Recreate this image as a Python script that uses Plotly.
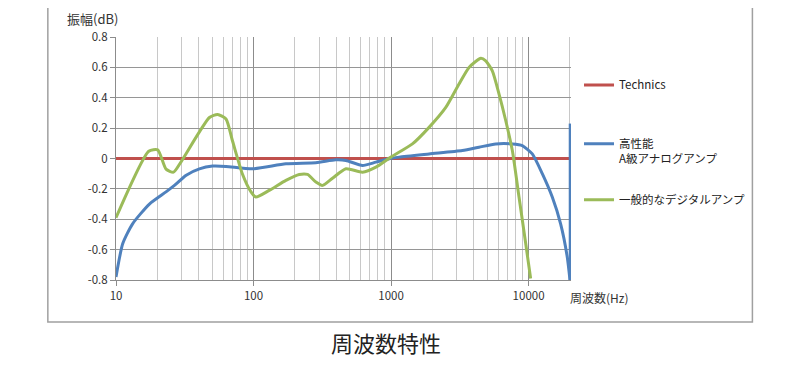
import plotly.graph_objects as go

# ---- data ----
freq_technics = [10, 20000]
val_technics = [0, 0]

freq_analog = [10, 11.2, 13.2, 17.5, 23.1, 26.6, 32.4, 40.4, 50.4, 63.1, 98.4, 172, 284,
               397, 470, 620, 776, 968, 1145, 1890, 3300, 4360, 5770, 7620, 9000,
               10640, 12580, 14870, 17100, 19100, 20000]
val_analog = [-0.78, -0.56, -0.43, -0.30, -0.22, -0.177, -0.11, -0.068, -0.05, -0.052, -0.068,
              -0.035, -0.028, -0.009, -0.013, -0.046, -0.024, -0.002, 0.009, 0.03, 0.052,
              0.074, 0.096, 0.096, 0.085, 0.03, -0.10, -0.254, -0.43, -0.647, -0.8]
freq_analog_tail = [20000, 20000]
val_analog_tail = [-0.8, 0.23]

freq_digital = [10, 17.3, 20.1, 23.1, 26.2, 29.8, 47.8, 54.8, 63.1, 70.1, 82.9, 95.9, 104,
                130, 172, 215, 247, 284, 318, 375, 470, 620, 776, 997, 1430, 1890, 2500,
                3120, 3690, 4500, 4880, 5450, 6100, 6820, 7620, 8520, 9530, 10350]
val_digital = [-0.39, 0.048, 0.057, -0.07, -0.09, -0.02, 0.27, 0.29, 0.26, 0.12, -0.10, -0.22,
               -0.254, -0.21, -0.144, -0.105, -0.105, -0.155, -0.177, -0.13, -0.068, -0.09,
               -0.057, 0.009, 0.096, 0.205, 0.336, 0.49, 0.60, 0.66, 0.643, 0.577, 0.424,
               0.25, 0.052, -0.254, -0.56, -0.79]

names = ["Technics", "高性能<br>A級アナログアンプ", "一般的なデジタルアンプ"]
colors = ["#C0504D", "#4F81BD", "#9BBB59"]

x_major = [10, 100, 1000, 10000]
x_major_text = ["10", "100", "1000", "10000"]
x_minor = [m * d for d in (10, 100, 1000) for m in range(2, 10)] + [20000]
y_ticks = [-0.8, -0.6, -0.4, -0.2, 0, 0.2, 0.4, 0.6, 0.8]
y_tick_text = ["-0.8", "-0.6", "-0.4", "-0.2", "0", "0.2", "0.4", "0.6", "0.8"]

FONT = "Noto Sans CJK JP, Noto Sans, sans-serif"

fig = go.Figure()
fig.add_trace(go.Scatter(x=freq_technics, y=val_technics, mode="lines", name=names[0],
                         line=dict(color=colors[0], width=3), legend="legend"))
fig.add_trace(go.Scatter(x=freq_analog, y=val_analog, mode="lines", name=names[1],
                         line=dict(color=colors[1], width=3, shape="spline", smoothing=0.6),
                         legend="legend2", legendgroup="analog"))
fig.add_trace(go.Scatter(x=freq_analog_tail, y=val_analog_tail, mode="lines", name=names[1],
                         line=dict(color=colors[1], width=2.5), showlegend=False,
                         legendgroup="analog"))
fig.add_trace(go.Scatter(x=freq_digital, y=val_digital, mode="lines", name=names[2],
                         line=dict(color=colors[2], width=3, shape="spline", smoothing=0.6),
                         legend="legend3"))

legend_common = dict(xref="paper", yref="paper", xanchor="left", yanchor="middle",
                     bgcolor="rgba(0,0,0,0)", font=dict(family=FONT, size=11.5, color="#222"),
                     itemwidth=30)
LX = 1.0176
fig.update_layout(
    width=800, height=370,
    margin=dict(l=108, r=237, t=29, b=98, autoexpand=False),
    paper_bgcolor="white", plot_bgcolor="white",
    font=dict(family=FONT, size=11.5, color="#333"),
    legend=dict(x=LX, y=0.8025, **legend_common),
    legend2=dict(x=LX, y=0.53, valign="top", **legend_common),
    legend3=dict(x=LX, y=0.33, **legend_common),
    xaxis=dict(type="log", range=[1, 4.3085], tickmode="array", tickvals=x_major,
               ticktext=x_major_text, showgrid=True, gridcolor="#8C8C8C", gridwidth=1,
               showline=True, linecolor="#8C8C8C", linewidth=1,
               ticks="outside", ticklen=5, tickcolor="#8C8C8C",
               minor=dict(tickmode="array", tickvals=x_minor, showgrid=True,
                          gridcolor="#C8C8C8", gridwidth=1, ticks=""),
               tickfont=dict(family=FONT, size=11.5, color="#333"), zeroline=False),
    yaxis=dict(range=[-0.8, 0.8], tickmode="array", tickvals=y_ticks, ticktext=y_tick_text,
               showgrid=True, gridcolor="#969696", gridwidth=1,
               showline=True, linecolor="#8C8C8C", linewidth=1,
               ticks="outside", ticklen=5, tickcolor="#8C8C8C",
               tickfont=dict(family=FONT, size=11.5, color="#333"), zeroline=False),
    shapes=[dict(type="rect", xref="paper", yref="paper", x0=-0.1498, x1=1.3987,
                 y0=-0.1728, y1=1.146, line=dict(color="#A0A0A0", width=1.5),
                 fillcolor="rgba(0,0,0,0)", layer="below")],
    annotations=[
        dict(text="振幅(dB)", xref="paper", yref="paper", x=-0.1123, y=1.078,
             xanchor="left", yanchor="middle", showarrow=False,
             font=dict(family=FONT, size=13, color="#333")),
        dict(text="周波数(Hz)", xref="paper", yref="paper", x=0.993, y=-0.074,
             xanchor="left", yanchor="middle", showarrow=False,
             font=dict(family=FONT, size=12, color="#333")),
        dict(text="周波数特性", xref="paper", yref="paper", x=0.593, y=-0.255,
             xanchor="center", yanchor="middle", showarrow=False,
             font=dict(family=FONT, size=22, color="#222")),
    ],
)

fig.write_html("out.html")
